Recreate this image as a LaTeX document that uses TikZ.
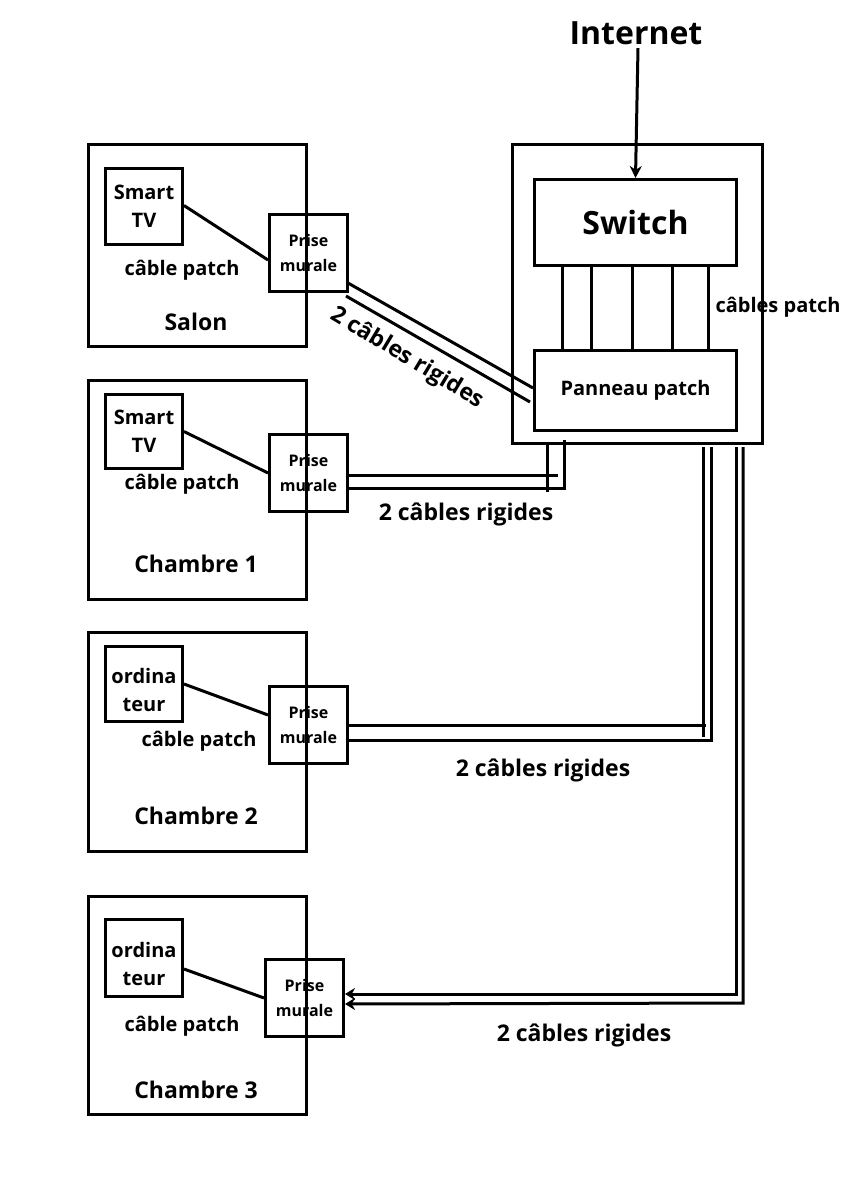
\documentclass[tikz,border=0pt]{standalone}
\usepackage{fontspec}
\setmainfont{Open Sans}
\usetikzlibrary{arrows.meta}
\usetikzlibrary{calc}

\tikzset{
  box/.style={draw,line width=3pt,inner sep=0pt,anchor=north west},
  lbl/.style={font=\bfseries\fontsize{20}{28}\selectfont,align=center},
  big/.style={font=\bfseries\fontsize{23}{24}\selectfont},
  cable/.style={line width=3pt}
}

\begin{document}
\begin{tikzpicture}[x=1pt,y=-1pt]
\useasboundingbox (0,0) rectangle (848,1200);
% rooms
\node[box,minimum width=218,minimum height=202] (salon) at (87,143) {};
\node[box,minimum width=218,minimum height=219] (ch1) at (87,379) {};
\node[box,minimum width=218,minimum height=219] (ch2) at (87,631) {};
\node[box,minimum width=218,minimum height=218] (ch3) at (87,895) {};
% devices
\node[box,minimum width=77,minimum height=76] (tv1) at (104,167) {};
\node[box,minimum width=77,minimum height=74] (tv2) at (104,393) {};
\node[box,minimum width=77,minimum height=75] (pc1) at (104,645) {};
\node[box,minimum width=77,minimum height=77] (pc2) at (104,918) {};
\node[lbl] at (tv1.center) {Smart\\TV};
\node[lbl] at (tv2.center) {Smart\\TV};
\node[lbl] at ([yshift=-6]pc1.center) {ordina\\teur};
\node[lbl] at ([yshift=-6]pc2.center) {ordina\\teur};
% wall sockets
\foreach \n/\x/\y in {p1/268/213, p2/268/433, p3/268/685, p4/264/958}{
  \node[box,minimum width=78,minimum height=77] (\n) at (\x,\y) {};
  \node[lbl,font=\bfseries\fontsize{16}{25}\selectfont] at (\n.center) {Prise\\murale};
}
% labels
\node[lbl] at (182,270) {câble patch};
\node[lbl] at (182,484) {câble patch};
\node[lbl] at (199,741) {câble patch};
\node[lbl] at (182,1026) {câble patch};
\node[lbl,big] at (196,322) {Salon};
\node[lbl,big] at (196,564) {Chambre 1};
\node[lbl,big] at (196,816) {Chambre 2};
\node[lbl,big] at (196,1090) {Chambre 3};
% patch cables
\draw[cable] (tv1.east) ++(0,-1) -- ($(p1.west)+(0,7)$);
\draw[cable] (tv2.east) -- ($(p2.west)+(0,0)$);
\draw[cable] ($(pc1.east)+(0,0)$) -- ($(p3.west)+(0,-10)$);
\draw[cable] ($(pc2.east)+(0,11)$) -- ($(p4.west)+(0,0)$);
% rack
\node[box,minimum width=250,minimum height=299] (rack) at (511,143) {};
\node[box,minimum width=202,minimum height=86] (switch) at (533,178) {};
\node[lbl,font=\bfseries\fontsize{32}{30}\selectfont] at (switch.center) {Switch};
\node[box,minimum width=202,minimum height=80] (panel) at (533,349) {};
\node[lbl] at (panel.center) {Panneau patch};
\foreach \x in {562,591,632,672,708}
  \draw[cable] (\x,264) -- (\x,349);
\node[lbl] at (778,307) {câbles patch};
% internet
\node[lbl,font=\bfseries\fontsize{32}{30}\selectfont] (inet) at (636,33) {Internet};
\draw[cable,-{Stealth[length=12pt,width=12pt]}] (inet.south) ++(2,0) -- (switch.north);
% rigid cables
\draw[cable] (348,283) -- (533,388);
\draw[cable] (346,296) -- (530,402);
\node[lbl,big,rotate=-31] at (407,358) {2 câbles rigides};
\draw[cable] (p2.east |- 0,475) -- (558,475);
\draw[cable] (547,443) -- (547,492);
\draw[cable] (p2.east |- 0,488) -- (564,488) -- (564,440);
\node[lbl,big] at (466,514) {2 câbles rigides};
\draw[cable] (p3.east |- 0,725) -- (706,725);
\draw[cable] (703,447) -- (703,737);
\draw[cable] (p3.east |- 0,740) -- (711,740) -- (711,447);
\node[lbl,big] at (543,770) {2 câbles rigides};
\draw[cable,-{Stealth[length=10pt,width=12pt]}] (736,447) -- (736,994) -- (p4.east |- 0,994);
\draw[cable,-{Stealth[length=10pt,width=12pt]}] (743,447) -- (743,1003) -- (p4.east |- 0,1004);
\node[lbl,big] at (584,1035) {2 câbles rigides};
\end{tikzpicture}
\end{document}
